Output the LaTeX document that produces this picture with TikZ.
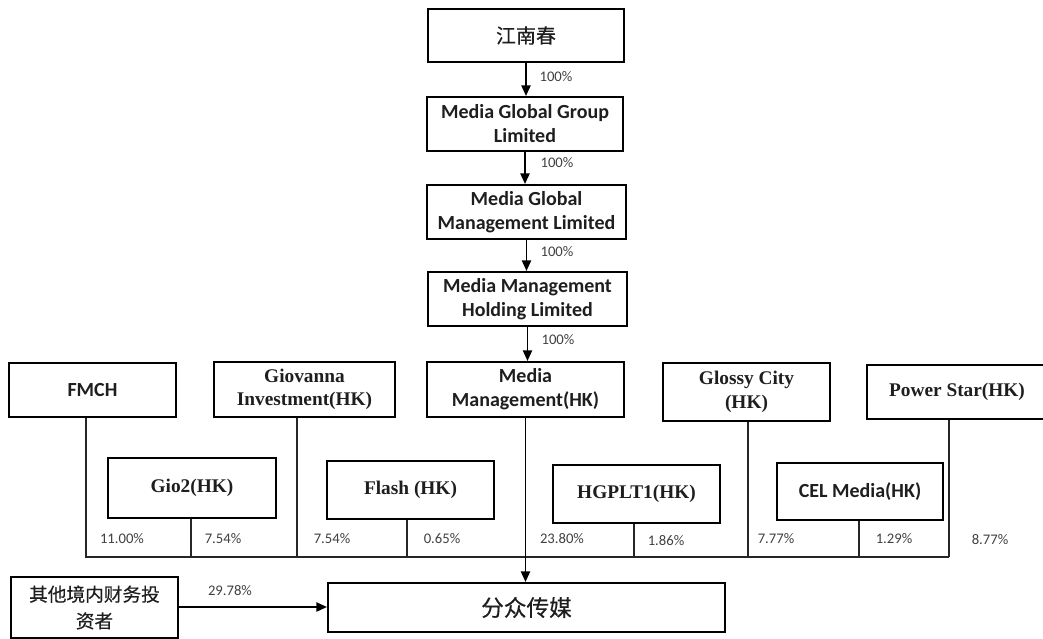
\documentclass[tikz,border=0pt]{standalone}
\usepackage{fontspec}
\setmainfont{Liberation Serif}
\newfontfamily\carlitofont{Carlito}
\newfontfamily\cjkfont[FakeBold=0.4]{Noto Sans CJK SC}
\usetikzlibrary{arrows.meta}
\definecolor{txt}{HTML}{1E1E1E}
\definecolor{pct}{HTML}{404040}
\begin{document}
\begin{tikzpicture}[x=0.75pt,y=-0.75pt,
  box/.style={draw=black,line width=1.6pt,inner sep=0pt,align=center,text=txt,font=\carlitofont\bfseries\fontsize{15}{18}\selectfont},
  tbox/.style={box,font=\bfseries\fontsize{14.5}{17.5}\selectfont},
  cbox/.style={box,font=\cjkfont\fontsize{15}{20}\selectfont},
  pctlab/.style={text=pct,font=\carlitofont\fontsize{11}{13}\selectfont,inner sep=0pt},
  line/.style={draw=black!85,line width=0.9pt},
  arr/.style={draw=black,line width=1.2pt,-{Triangle[length=8pt,width=7pt]}}]
\useasboundingbox (0,0) rectangle (1043,639);
% top chain
\node[cbox,minimum width=196*0.75pt,minimum height=53*0.75pt] (jnc) at (526,35.5) {江南春};
\node[box,minimum width=196*0.75pt,minimum height=54*0.75pt] (mggl) at (525,124) {Media Global Group\\Limited};
\node[box,minimum width=199*0.75pt,minimum height=54*0.75pt] (mgml) at (526.5,212) {Media Global\\Management Limited};
\node[box,minimum width=199*0.75pt,minimum height=54*0.75pt] (mmhl) at (527.5,299) {Media Management\\Holding Limited};
% second row
\node[box,minimum width=167*0.75pt,minimum height=54*0.75pt] (fmch) at (92.5,390) {FMCH};
\node[tbox,minimum width=181*0.75pt,minimum height=55*0.75pt] (giov) at (304.5,389.5) {Giovanna\\Investment(HK)};
\node[box,minimum width=197*0.75pt,minimum height=55*0.75pt] (mmhk) at (525.5,389.5) {Media\\Management(HK)};
\node[tbox,minimum width=167*0.75pt,minimum height=58*0.75pt] (glossy) at (746.5,392) {Glossy City\\(HK)};
\node[tbox,minimum width=180*0.75pt,minimum height=54*0.75pt] (power) at (957,392) {Power Star(HK)};
% inner row
\node[tbox,minimum width=168*0.75pt,minimum height=60*0.75pt] (gio2) at (192,488) {Gio2(HK)};
\node[tbox,minimum width=167*0.75pt,minimum height=58*0.75pt] (flash) at (410.5,490) {Flash (HK)};
\node[tbox,minimum width=167*0.75pt,minimum height=58*0.75pt] (hgplt) at (636.5,494) {HGPLT1(HK)};
\node[box,minimum width=166*0.75pt,minimum height=57*0.75pt] (cel) at (860,491.5) {CEL Media(HK)};
% bottom
\node[cbox,font=\cjkfont\fontsize{14}{20}\selectfont,minimum width=167*0.75pt,minimum height=61*0.75pt] (other) at (94.5,607.5) {其他境内财务投\\资者};
\node[cbox,font=\cjkfont\fontsize{17}{20}\selectfont,minimum width=397*0.75pt,minimum height=49*0.75pt] (fz) at (526.5,607.5) {分众传媒};
% top arrows
\draw[arr] (jnc.south) -- (jnc.south |- mggl.north);
\draw[arr] (mggl.south) -- (mggl.south |- mgml.north);
\draw[arr] (mgml.south) -- (mgml.south |- mmhl.north);
\draw[arr] (mmhl.south) -- (mmhl.south |- mmhk.north);
\node[pctlab] (p1) at (556,77) {100\%};
\node[pctlab] (p2) at (557,163) {100\%};
\node[pctlab] (p3) at (557,252) {100\%};
\node[pctlab] (p4) at (558,340) {100\%};
% bus coordinates
\coordinate (b1) at (86,557);
\coordinate (b2) at (191,557);
\coordinate (b3) at (297,557);
\coordinate (b4) at (407,557);
\coordinate (b6) at (634,557);
\coordinate (b7) at (748,557);
\coordinate (b8) at (859,557);
\coordinate (b9) at (949,557);
\draw[line] (fmch.south -| b1) -- (b1) -- (b9);
\draw[line] (gio2.south -| b2) -- (b2);
\draw[line] (giov.south -| b3) -- (b3);
\draw[line] (flash.south -| b4) -- (b4);
\draw[line] (hgplt.south -| b6) -- (b6);
\draw[line] (glossy.south -| b7) -- (b7);
\draw[line] (cel.south -| b8) -- (b8);
\draw[line] (power.south -| b9) -- (b9);
\draw[arr] (mmhk.south) -- (mmhk.south |- fz.north);
\coordinate (ay) at (0,607);
\draw[arr] (other.east |- ay) -- (fz.west |- ay);
% percentages
\node[pctlab] (q1) at (122,539) {11.00\%};
\node[pctlab] (q2) at (223,539) {7.54\%};
\node[pctlab] (q3) at (332,539) {7.54\%};
\node[pctlab] (q4) at (442,539) {0.65\%};
\node[pctlab] (q5) at (562,539) {23.80\%};
\node[pctlab] (q6) at (666,541) {1.86\%};
\node[pctlab] (q7) at (776,539) {7.77\%};
\node[pctlab] (q8) at (894,539) {1.29\%};
\node[pctlab] (q9) at (990,540) {8.77\%};
\node[pctlab] (q10) at (230,591) {29.78\%};
\end{tikzpicture}
\end{document}
